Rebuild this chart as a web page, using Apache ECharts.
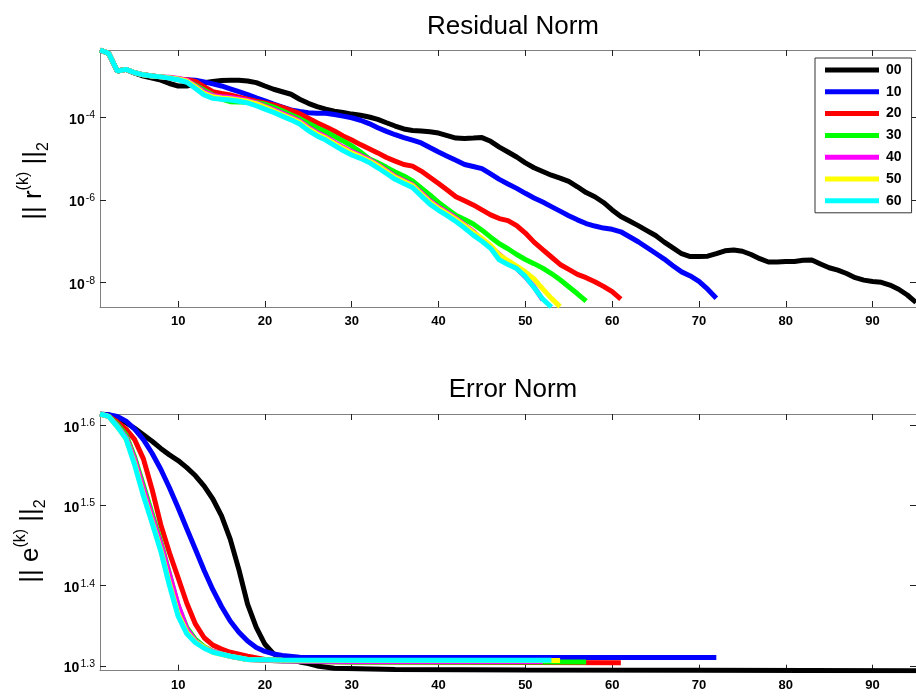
<!DOCTYPE html>
<html><head><meta charset="utf-8">
<script src="https://cdn.jsdelivr.net/npm/echarts@6/dist/echarts.min.js"></script>
<style>html,body{margin:0;padding:0;background:#fff}#chart{width:916px;height:697px}</style>
</head><body><div id="chart"></div>
<script>
// ---------- data ----------
const seriesNames = ['00','10','20','30','40','50','60'];
const seriesColors = ['#000000','#0000ff','#ff0000','#00ff00','#ff00ff','#ffff00','#00ffff'];
const xTickValues = [10,20,30,40,50,60,70,80,90];
const resTickValues = [1e-8,1e-6,1e-4];
const errTickValues = [19.9526,25.1189,31.6228,39.8107];

// residual norm, one value per iteration starting at iteration 1
const res00 = [4.27e-3,3.55e-3,1.32e-3,1.45e-3,1.17e-3,1.00e-3,8.91e-4,7.94e-4,6.61e-4,5.75e-4,
5.75e-4,6.31e-4,6.92e-4,7.41e-4,7.76e-4,7.94e-4,7.94e-4,7.59e-4,6.92e-4,5.75e-4,
4.79e-4,4.17e-4,3.63e-4,2.75e-4,2.19e-4,1.82e-4,1.58e-4,1.41e-4,1.32e-4,1.20e-4,
1.12e-4,1.02e-4,8.91e-5,7.41e-5,6.17e-5,5.25e-5,4.79e-5,4.68e-5,4.47e-5,4.17e-5,
3.63e-5,3.16e-5,3.09e-5,3.16e-5,3.24e-5,2.63e-5,1.91e-5,1.45e-5,1.10e-5,7.94e-6,
6.03e-6,4.90e-6,3.98e-6,3.39e-6,2.82e-6,2.09e-6,1.51e-6,1.20e-6,8.71e-7,5.75e-7,
3.98e-7,3.09e-7,2.40e-7,1.82e-7,1.38e-7,9.55e-8,6.92e-8,5.01e-8,4.27e-8,4.27e-8,
4.37e-8,5.01e-8,5.89e-8,6.17e-8,5.75e-8,4.79e-8,3.80e-8,3.16e-8,3.16e-8,3.24e-8,
3.24e-8,3.47e-8,3.55e-8,2.82e-8,2.29e-8,2.00e-8,1.66e-8,1.32e-8,1.15e-8,1.07e-8,
1.02e-8,8.71e-9,6.92e-9,5.01e-9,3.31e-9];
const res10 = [4.27e-3,3.55e-3,1.32e-3,1.45e-3,1.20e-3,1.07e-3,1.00e-3,9.55e-4,
8.91e-4,8.32e-4,8.13e-4,7.94e-4,7.24e-4,6.46e-4,5.75e-4,4.90e-4,4.17e-4,3.55e-4,
2.95e-4,2.51e-4,2.09e-4,1.78e-4,1.51e-4,1.38e-4,1.29e-4,1.26e-4,1.26e-4,1.17e-4,
1.07e-4,9.77e-5,8.51e-5,7.08e-5,5.62e-5,4.57e-5,3.80e-5,3.24e-5,2.82e-5,2.40e-5,
1.86e-5,1.45e-5,1.15e-5,9.12e-6,7.24e-6,6.46e-6,5.75e-6,4.27e-6,3.16e-6,2.45e-6,
1.91e-6,1.45e-6,1.12e-6,8.91e-7,6.92e-7,5.37e-7,4.17e-7,3.31e-7,2.69e-7,2.34e-7,
2.09e-7,1.95e-7,1.70e-7,1.29e-7,9.77e-8,7.08e-8,5.13e-8,3.72e-8,2.57e-8,1.82e-8,
1.45e-8,1.07e-8,6.92e-9,4.17e-9];
const res20 = [4.27e-3,3.55e-3,1.32e-3,1.45e-3,1.20e-3,1.07e-3,1.00e-3,9.55e-4,
9.12e-4,8.51e-4,8.13e-4,7.41e-4,5.50e-4,4.17e-4,3.80e-4,3.47e-4,3.09e-4,2.75e-4,
2.45e-4,2.24e-4,2.00e-4,1.74e-4,1.48e-4,1.23e-4,9.55e-5,7.41e-5,5.89e-5,4.68e-5,
3.55e-5,2.82e-5,2.19e-5,1.74e-5,1.38e-5,1.07e-5,8.71e-6,7.24e-6,6.61e-6,5.01e-6,
3.55e-6,2.51e-6,1.74e-6,1.20e-6,9.55e-7,7.59e-7,5.75e-7,4.37e-7,3.55e-7,3.16e-7,
2.40e-7,1.58e-7,9.55e-8,6.31e-8,4.17e-8,2.75e-8,2.09e-8,1.58e-8,1.32e-8,1.05e-8,
8.13e-9,6.03e-9,3.98e-9];
const res30 = [4.27e-3,3.55e-3,1.32e-3,1.45e-3,1.20e-3,1.07e-3,1.00e-3,9.55e-4,
9.12e-4,8.32e-4,7.41e-4,6.03e-4,4.57e-4,3.47e-4,2.75e-4,2.40e-4,2.34e-4,2.40e-4,
2.29e-4,2.09e-4,1.78e-4,1.45e-4,1.15e-4,9.33e-5,7.24e-5,5.62e-5,4.47e-5,3.47e-5,
2.69e-5,2.04e-5,1.45e-5,1.00e-5,7.94e-6,6.17e-6,4.79e-6,3.80e-6,2.88e-6,1.95e-6,
1.32e-6,8.71e-7,6.03e-7,4.27e-7,3.39e-7,2.63e-7,1.86e-7,1.26e-7,8.71e-8,6.61e-8,
4.79e-8,3.63e-8,2.88e-8,2.24e-8,1.66e-8,1.17e-8,7.94e-9,5.37e-9,3.55e-9];
const res40 = [4.27e-3,3.55e-3,1.32e-3,1.45e-3,1.20e-3,1.07e-3,1.00e-3,9.55e-4,
9.33e-4,8.71e-4,7.94e-4,5.75e-4,4.17e-4,3.39e-4,3.16e-4,3.02e-4,2.82e-4,2.57e-4,
2.24e-4,1.86e-4,1.55e-4,1.26e-4,1.02e-4,8.13e-5,5.75e-5,4.27e-5,3.39e-5,2.51e-5,
1.91e-5,1.48e-5,1.20e-5,9.55e-6,7.08e-6,5.13e-6,3.72e-6,2.95e-6,2.34e-6,1.51e-6,
9.55e-7,6.76e-7,5.01e-7,3.63e-7,2.51e-7,1.74e-7,1.07e-7,7.24e-8,4.79e-8,3.16e-8,
2.19e-8,1.38e-8,7.94e-9,3.80e-9];
const res50 = [4.27e-3,3.55e-3,1.32e-3,1.45e-3,1.20e-3,1.07e-3,1.00e-3,9.55e-4,
9.12e-4,8.51e-4,7.59e-4,5.50e-4,3.80e-4,3.16e-4,2.95e-4,2.82e-4,2.63e-4,2.45e-4,
2.14e-4,1.78e-4,1.45e-4,1.17e-4,9.55e-5,7.59e-5,5.37e-5,3.98e-5,3.16e-5,2.34e-5,
1.78e-5,1.38e-5,1.12e-5,8.91e-6,6.76e-6,4.90e-6,3.55e-6,2.82e-6,2.24e-6,1.41e-6,
8.91e-7,6.31e-7,4.68e-7,3.39e-7,2.40e-7,1.66e-7,1.17e-7,7.94e-8,4.68e-8,3.39e-8,
2.51e-8,1.82e-8,1.23e-8,7.08e-9,4.17e-9,2.63e-9];
const res60 = [4.27e-3,3.55e-3,1.32e-3,1.45e-3,1.20e-3,1.07e-3,1.00e-3,9.55e-4,
8.91e-4,8.13e-4,7.08e-4,5.01e-4,3.47e-4,2.88e-4,2.75e-4,2.63e-4,2.45e-4,2.24e-4,
1.91e-4,1.58e-4,1.32e-4,1.07e-4,8.71e-5,6.92e-5,4.79e-5,3.55e-5,2.82e-5,2.09e-5,
1.58e-5,1.23e-5,1.02e-5,8.13e-6,6.03e-6,4.37e-6,3.16e-6,2.51e-6,2.00e-6,1.26e-6,
7.94e-7,5.62e-7,4.17e-7,3.02e-7,2.09e-7,1.41e-7,1.00e-7,6.76e-8,3.55e-8,2.75e-8,
2.19e-8,1.41e-8,7.59e-9,3.98e-9,2.57e-9];

// error norm: iterations and values
const errIter00 = [1,2,3,4,5,6,7,8,9,10,11,12,13,14,15,16,17,18,19,20,21,22,23,24,25,26,28,35,50,70,95];
const err00 = [41.11,41.02,40.55,40.09,39.45,38.73,38.02,37.24,36.56,35.97,35.24,34.43,33.42,32.21,30.69,28.71,26.30,23.82,22.28,21.23,20.65,20.46,20.32,20.18,20.09,19.95,19.82,19.75,19.72,19.70,19.68];
const errIter10 = [1,2,3,4,5,6,7,8,9,10,11,12,13,14,15,16,17,18,19,20,21,22,24,30,72];
const err10 = [41.11,41.02,40.83,40.27,39.36,38.19,36.73,35.08,33.27,31.41,29.58,27.86,26.24,24.83,23.66,22.70,21.98,21.43,21.04,20.80,20.65,20.56,20.46,20.44,20.44];
const errIter20 = [1,2,3,4,5,6,7,8,9,10,11,12,13,14,15,16,18,20,25,30,61];
const err20 = [41.11,40.83,40.18,39.36,38.19,36.14,33.11,29.92,27.61,25.70,23.88,22.49,21.63,21.18,20.94,20.75,20.51,20.32,20.21,20.18,20.14];
const errIter30 = [1,2,3,4,5,6,7,8,9,10,11,12,13,14,16,18,22,30,57];
const err30 = [41.11,40.83,39.90,38.73,36.31,33.50,30.90,28.51,26.00,23.71,22.28,21.53,21.09,20.80,20.51,20.32,20.23,20.18,20.18];
const errIter40 = [1,2,3,4,5,6,7,8,9,10,11,12,13,14,16,18,22,30,52];
const err40 = [41.11,40.83,39.72,38.46,36.06,33.19,30.62,28.31,25.94,23.77,22.18,21.43,21.04,20.80,20.51,20.32,20.23,20.21,20.21];
const errIter50 = [1,2,3,4,5,6,7,8,9,10,11,12,13,14,16,18,22,30,54];
const err50 = [41.11,40.83,39.63,38.28,35.65,32.66,30.20,27.87,25.29,23.17,21.98,21.38,21.04,20.75,20.51,20.32,20.28,20.26,20.26];
const errIter60 = [1,2,3,4,5,6,7,8,9,10,11,12,13,14,16,18,22,30,53];
const err60 = [41.11,40.83,39.63,38.28,35.48,32.51,30.06,27.73,25.12,23.01,21.88,21.33,20.99,20.75,20.51,20.32,20.30,20.28,20.28];

// ---------- build ----------
const FONT = 'Liberation Sans';
const resAll = [res00,res10,res20,res30,res40,res50,res60];
const errIters = [errIter00,errIter10,errIter20,errIter30,errIter40,errIter50,errIter60];
const errAll = [err00,err10,err20,err30,err40,err50,err60];
const resMin = Math.min(...resAll.flat()), resMax = Math.max(...resAll.flat());
const errMin = Math.min(...errAll.flat()), errMax = Math.max(...errAll.flat());

const axisLineStyle = {show:true, onZero:false, lineStyle:{color:'#808080', width:1}};
const tickStyle = (vals) => ({show:true, inside:true, length:6, lineStyle:{color:'#222', width:1}, customValues: vals});
const xLabel = {show:true, customValues:xTickValues, margin:8, color:'#000', fontSize:13, fontWeight:'bold', fontFamily:FONT};
const richY = {
  b:{fontSize:14, fontWeight:'bold', fontFamily:FONT, color:'#000', lineHeight:15, padding:[5,0,0,0]},
  s:{fontSize:10.5, fontFamily:FONT, color:'#000', lineHeight:10, verticalAlign:'top', padding:[0,0,0,1]}
};
function expOf(v, big){
  let e;
  if (big) { e = v < 5 ? v : Math.log10(v); return (Math.round(e*10)/10).toFixed(1); }
  e = v < 0 ? v : Math.log10(v); return String(Math.round(e));
}

function makeX(gridIndex, top){
  return {type:'value', gridIndex, min:1, max:95, position: top?'top':'bottom',
    axisLine:axisLineStyle, axisTick:tickStyle(xTickValues),
    axisLabel: top ? {show:false} : xLabel, splitLine:{show:false}};
}
function makeY(gridIndex, right, mn, mx, ticks, big){
  return {type:'log', logBase:10, gridIndex, min:mn, max:mx, position: right?'right':'left',
    axisLine:axisLineStyle, axisTick:tickStyle(ticks), minorTick:{show:false}, splitLine:{show:false},
    axisLabel: right ? {show:false} : {show:true, customValues:ticks, margin:5, rich:richY,
      formatter: v => '{b|10}{s|' + expOf(v, big) + '}'}};
}

const series = [];
seriesNames.forEach((name, k) => {
  series.push({name, type:'line', xAxisIndex:0, yAxisIndex:0, color:seriesColors[k],
    data: resAll[k].map((v,i)=>[i+1, v]), symbol:'none', showSymbol:false,
    lineStyle:{width:5, color:seriesColors[k]}, clip:true, animation:false, z:2});
});
seriesNames.forEach((name, k) => {
  series.push({name, type:'line', xAxisIndex:2, yAxisIndex:2, color:seriesColors[k],
    data: errAll[k].map((v,i)=>[errIters[k][i], v]), symbol:'none', showSymbol:false,
    lineStyle:{width:5, color:seriesColors[k]}, clip:true, animation:false, z:2});
});

const nameRich = (fill) => ({
  b:{fontSize:26, fontFamily:FONT, fill:fill, lineHeight:36},
  sup:{fontSize:16, fontFamily:FONT, fill:fill, lineHeight:16, verticalAlign:'top'},
  sub:{fontSize:16, fontFamily:FONT, fill:fill, lineHeight:16, verticalAlign:'bottom'}
});

const option = {
  backgroundColor:'#ffffff',
  animation:false,
  title:[
    {text:'Residual Norm', left:513, top:26.7, textAlign:'center', textVerticalAlign:'middle', padding:0,
     textStyle:{fontSize:26, fontWeight:'normal', fontFamily:FONT, color:'#000'}},
    {text:'Error Norm', left:513, top:390, textAlign:'center', textVerticalAlign:'middle', padding:0,
     textStyle:{fontSize:26, fontWeight:'normal', fontFamily:FONT, color:'#000'}}
  ],
  legend:{data:seriesNames, orient:'vertical', left:815, top:58, padding:[5,10,5,10], itemGap:7.8,
    icon:'rect', itemWidth:54, itemHeight:5, borderColor:'#333', borderWidth:1, backgroundColor:'#fff',
    textStyle:{fontSize:14, fontWeight:'bold', fontFamily:FONT, color:'#000', lineHeight:14, padding:[0,0,0,2]}},
  grid:[{left:100, top:50, width:819, height:257}, {left:100, top:414, width:819, height:256.7}],
  xAxis:[makeX(0,false), makeX(0,true), makeX(1,false), makeX(1,true)],
  yAxis:[makeY(0,false,resMin,resMax,resTickValues,false), makeY(0,true,resMin,resMax,resTickValues,false),
         makeY(1,false,errMin,errMax,errTickValues,true), makeY(1,true,errMin,errMax,errTickValues,true)],
  graphic:[
    {type:'text', x:34, y:181, rotation:Math.PI/2, z:10,
     style:{text:'{b||| r}{sup|(k)}{b| ||}{sub|2}', align:'center', verticalAlign:'middle', rich:nameRich('#000')}},
    {type:'text', x:31, y:541, rotation:Math.PI/2, z:10,
     style:{text:'{b||| e}{sup|(k)}{b| ||}{sub|2}', align:'center', verticalAlign:'middle', rich:nameRich('#000')}}
  ],
  series
};
const chart = echarts.init(document.getElementById('chart'), null, {renderer:'canvas'});
chart.setOption(option);
</script></body></html>
